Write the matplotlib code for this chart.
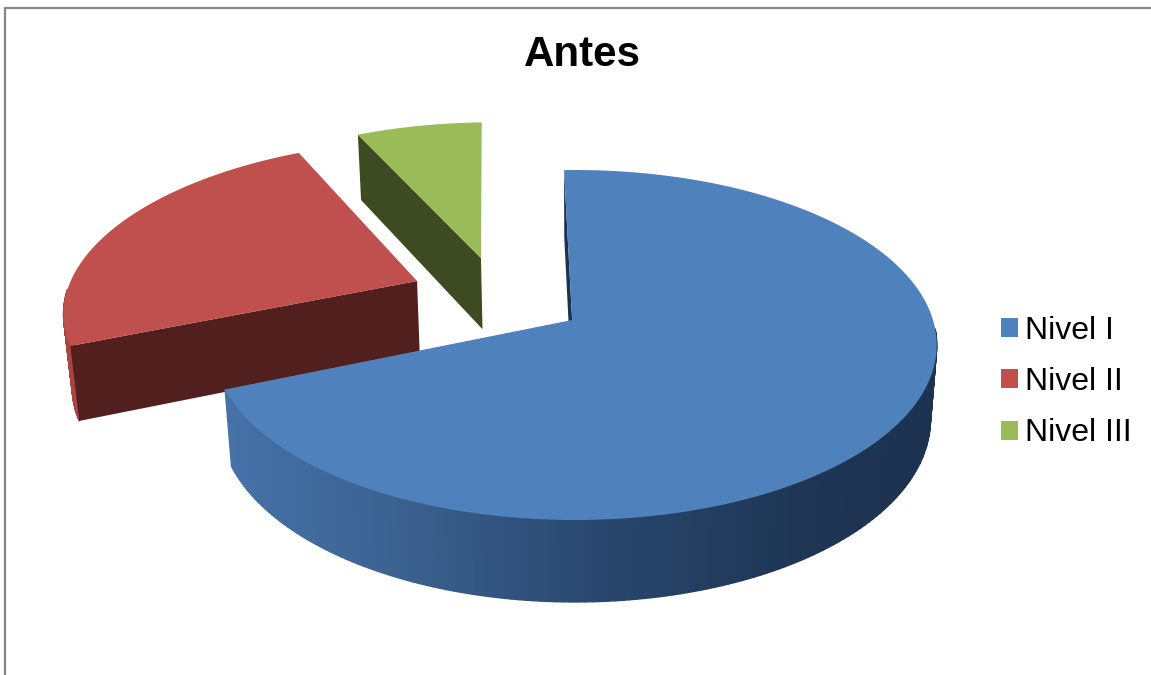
import numpy as np
import matplotlib
matplotlib.use("Agg")
import matplotlib.pyplot as plt
from matplotlib.collections import PolyCollection
from matplotlib.patches import Patch

plt.rcParams["font.family"] = ["Liberation Sans", "DejaVu Sans"]

title = "Antes"
categories = ["Nivel I", "Nivel II", "Nivel III"]
shares = [69.3, 24.0, 6.7]

top_colors = ["#4f81bd", "#c0504d", "#9bbb59"]
wall_colors = ["#1c3350", "#501f1e", "#3e4a21"]
rim_stops = [
    ("#4672a9", "#3b618f", "#29476e", "#1f3654", "#1c3250"),
    ("#a84542", "#a84542", "#a84542", "#a84542", "#a84542"),
    ("#5f7436", "#5f7436", "#5f7436", "#5f7436", "#5f7436"),
]
# how far each slice is pulled out of the pie, in disc units
explode = [(0.0, 0.0), (-0.456, -0.235), (-0.277, -0.381)]
# the inner corner of the big slice sits a little left of the disc centre
apex_shift = [(-0.008, 0.0), (0.0, 0.0), (0.0, 0.0)]

START_ANGLE = -2.0
CX, CY = 575, 320
A, B, P = 171.4, 358.0, 1 / 7
DEPTH_Y, DEPTH_W = 75.2, 0.0175
RIM_X = [225, 400, 600, 800, 930]


def project(u, v, low=False):
    # simple perspective view of the disc, low=True gives the underside
    h = 1.0 if low else 0.0
    w = 1 - P * np.asarray(v) + DEPTH_W * h
    x = CX + B * np.asarray(u) / w
    y = CY + (A * np.asarray(v) + DEPTH_Y * h) / w
    return np.column_stack([x, y])


def draw_slice(ax, start, end, offset, shift, top, wall, rim):
    du, dv = offset
    au, av = du + shift[0], dv + shift[1]
    theta = np.radians(np.linspace(start, end, 240))
    u = du + np.sin(theta)
    v = dv - np.cos(theta)

    # rim with its shading, the back part is hidden anyway
    front = np.cos(theta) < -0.05
    if front.sum() > 1:
        up = project(u[front], v[front])
        low = project(u[front], v[front], True)
        quads = [[up[i], up[i + 1], low[i + 1], low[i]] for i in range(len(up) - 1)]
        rgb = np.array([matplotlib.colors.to_rgb(c) for c in rim])
        mid_x = (up[:-1, 0] + up[1:, 0]) / 2
        colors = np.column_stack([np.interp(mid_x, RIM_X, rgb[:, k]) for k in range(3)])
        ax.add_collection(PolyCollection(quads, facecolors=colors, edgecolors=colors, linewidths=1.0, zorder=2))

    # flat wall from the centre to the rim at the start of the slice
    wall_u = np.array([au, u[0]])
    wall_v = np.array([av, v[0]])
    poly = np.vstack([project(wall_u, wall_v), project(wall_u, wall_v, True)[::-1]])
    ax.fill(poly[:, 0], poly[:, 1], color=wall, lw=0, zorder=2.5)

    # top face
    face = project(np.r_[au, u], np.r_[av, v])
    ax.fill(face[:, 0], face[:, 1], color=top, lw=0, zorder=3)


def main():
    fig = plt.figure(figsize=(11.51, 6.75), dpi=100)
    ax = fig.add_axes([0, 0, 1, 1])
    ax.set_xlim(0, 1151)
    ax.set_ylim(675, 0)
    ax.axis("off")

    # chart frame, only the left and top edges show
    ax.plot([5.5, 5.5, 1151], [675, 7.5, 7.5], color="#868686", lw=1.6, zorder=1)

    angles = 360 * np.array(shares) / sum(shares)
    ends = START_ANGLE + np.cumsum(angles)
    starts = ends - angles

    # back slices first so the big one covers them
    for i in [2, 1, 0]:
        group = fig.add_axes(ax.get_position(), sharex=ax, sharey=ax, label=categories[i])
        group.axis("off")
        group.patch.set_alpha(0)
        draw_slice(group, starts[i], ends[i], explode[i], apex_shift[i], top_colors[i], wall_colors[i], rim_stops[i])

    ax.text(582, 55, title, fontsize=30.3, fontweight="bold", ha="center", va="center")

    handles = [Patch(facecolor=c, edgecolor="none") for c in top_colors]
    fig.legend(
        handles,
        categories,
        loc="center left",
        bbox_to_anchor=(1001 / 1151, 1 - 382 / 675),
        fontsize=23,
        frameon=False,
        handlelength=0.53,
        handleheight=0.53,
        handletextpad=0.22,
        labelspacing=0.67,
        borderpad=0,
        borderaxespad=0,
    )

    fig.savefig("out.png", dpi=100)


if __name__ == "__main__":
    main()
